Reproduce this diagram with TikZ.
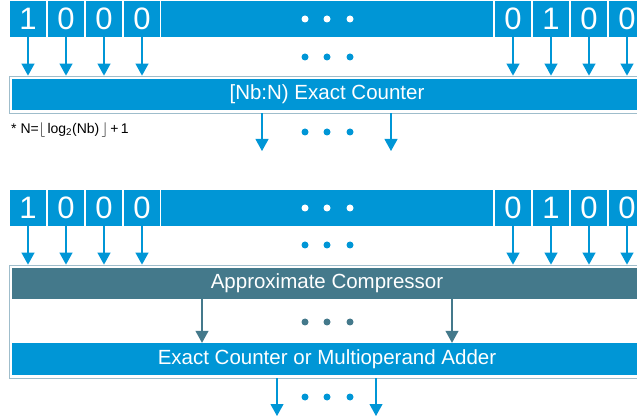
\documentclass[tikz,border=0pt]{standalone}
\usepackage{fontspec}
\setmainfont{Liberation Sans}
\usetikzlibrary{arrows.meta}
\definecolor{cblue}{HTML}{0096D6}
\definecolor{cteal}{HTML}{44798B}
\definecolor{cframe}{HTML}{9FBDCB}
\begin{document}
\begin{tikzpicture}[x=1pt,y=-1pt,
  cell/.style={fill=cblue,text=white,inner sep=0pt,minimum width=36pt,minimum height=36pt,font=\fontsize{31}{31}\selectfont},
  bigcell/.style={cell,minimum width=332pt},
  frame/.style={draw=cframe,line width=0.8pt,fill=white,inner sep=0pt,minimum width=636pt},
  bar/.style={fill=#1,text=white,inner sep=0pt,minimum width=630pt,font=\fontsize{20.5}{20.5}\selectfont},
  arr/.style={draw=#1,line width=1.1pt,-{Triangle[width=13pt,length=12pt]}},
  dot/.style={circle,fill=#1,inner sep=0pt,minimum size=7pt}]
\useasboundingbox (0,0) rectangle (637,419);
\clip (0,0) rectangle (637,419);
% ---------- section 1 ----------
\foreach \n/\x/\t in {a1/28/1,a2/66/0,a3/104/0,a4/142/0,a5/513/0,a6/551/1,a7/589/0,a8/627/0}
  \node[cell] (\n) at (\x,19) {\t};
\node[bigcell] (abig) at (327,19) {};
\foreach \i/\x in {1/305,2/327,3/350} \node[dot=white] (aw\i) at (\x,19) {};
\node[frame,minimum height=37pt] (f1) at (327,94.5) {};
\node[bar=cblue,minimum height=31pt] (cnt1) at (327,94.5) {[Nb:N) Exact Counter};
\foreach \n in {a1,a2,a3,a4,a5,a6,a7,a8} \draw[arr=cblue] (\n.south) -- (\n.south |- f1.north);
\foreach \i/\x in {1/305,2/327,3/350} \node[dot=cblue] (ad\i) at (\x,57) {};
\node[anchor=west,inner sep=0pt,font=\fontsize{14}{14}\selectfont] (note) at (11,129.5)
  {* N=$\big\lfloor$\,log\textsubscript{2}(Nb)\,$\big\rfloor$\,+\,1};
\coordinate (o1) at (262,151);
\coordinate (o2) at (391,151);
\draw[arr=cblue] (o1 |- f1.south) -- (o1);
\draw[arr=cblue] (o2 |- f1.south) -- (o2);
\foreach \i/\x in {1/305,2/327,3/350} \node[dot=cblue] (ao\i) at (\x,132) {};
% ---------- section 2 ----------
\foreach \n/\x/\t in {b1/28/1,b2/66/0,b3/104/0,b4/142/0,b5/513/0,b6/551/1,b7/589/0,b8/627/0}
  \node[cell] (\n) at (\x,208) {\t};
\node[bigcell] (bbig) at (327,208) {};
\foreach \i/\x in {1/305,2/327,3/350} \node[dot=white] (bw\i) at (\x,208) {};
\node[frame,minimum height=113pt] (f2) at (327,321.5) {};
\node[bar=cteal,minimum height=31pt] (comp) at (327,283.5) {Approximate Compressor};
\node[bar=cblue,minimum height=32pt] (add) at (327,359) {Exact Counter or Multioperand Adder};
\foreach \n in {b1,b2,b3,b4,b5,b6,b7,b8} \draw[arr=cblue] (\n.south) -- (\n.south |- f2.north);
\foreach \i/\x in {1/305,2/327,3/350} \node[dot=cblue] (bd\i) at (\x,245) {};
\coordinate (m1) at (202,0);
\coordinate (m2) at (452,0);
\draw[arr=cteal] (m1 |- comp.south) -- (m1 |- add.north);
\draw[arr=cteal] (m2 |- comp.south) -- (m2 |- add.north);
\foreach \i/\x in {1/305,2/327,3/350} \node[dot=cteal] (bm\i) at (\x,322) {};
\coordinate (p1) at (277,416);
\coordinate (p2) at (376,416);
\draw[arr=cblue] (p1 |- f2.south) -- (p1);
\draw[arr=cblue] (p2 |- f2.south) -- (p2);
\foreach \i/\x in {1/305,2/327,3/350} \node[dot=cblue] (bo\i) at (\x,397) {};
\end{tikzpicture}
\end{document}
